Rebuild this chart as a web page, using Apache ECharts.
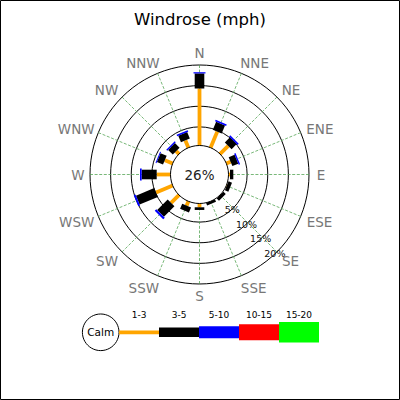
<!DOCTYPE html>
<html>
<head>
<meta charset="utf-8">
<script src="https://cdn.jsdelivr.net/npm/echarts@6.0.0/dist/echarts.min.js"></script>
<style>
html,body{margin:0;padding:0;background:#fff;}
#chart{width:400px;height:400px;}
</style>
</head>
<body>
<div id="chart"></div>
<script>
// ---- data ----
const directions = ['N','NNE','NE','ENE','E','ESE','SE','SSE','S','SSW','SW','WSW','W','WNW','NW','NNW'];
const speedBins = ['1-3','3-5','5-10','10-15','15-20'];
const calmPct = 26;
const radialTicks = [5, 10, 15, 20];
// percent of time per direction for each speed bin (mph)
const pct1to3   = [14.3, 4.7, 3.3, 1.6, 0.85, 0.6, 0.5, 0.4, 1.4, 1.6, 3.2, 4.85, 3.83, 2.55, 1.45, 2.4];
const pct3to5   = [3.65, 2.1, 1.75, 1.55, 0.8, 0.9, 0.8, 0.7, 0.65, 1.35, 3.6, 4.8, 3.64, 1.6, 1.6, 1.7];
const pct5to10  = [0.3, 0.4, 0.4, 0.35, 0, 0, 0, 0, 0, 0, 0.55, 0.45, 0.41, 0.25, 0.35, 0.36];
const pct10to15 = [0, 0, 0, 0, 0, 0, 0, 0, 0, 0, 0, 0, 0, 0, 0, 0];
const pct15to20 = [0, 0, 0, 0, 0, 0, 0, 0, 0, 0, 0, 0, 0, 0, 0, 0];

// ---- styles ----
const binValues = [pct1to3, pct3to5, pct5to10, pct10to15, pct15to20];
const binColors = ['#FFA500', '#000000', '#0000FF', '#FF0000', '#00FF00'];
const binThickness = [3.8, 9.6, 12, 16, 20.5];
const CX = 199.5, CY = 174.5, R0 = 27, R1 = 109.5;
const FONT = 'DejaVu Sans';
const DIR_FONT = '13.5px "' + FONT + '"';

const measureCtx = document.createElement('canvas').getContext('2d');
function textWidth(t, font) { measureCtx.font = font; return measureCtx.measureText(t).width; }

const chart = echarts.init(document.getElementById('chart'), null, {renderer: 'svg', width: 400, height: 400});

const barSeries = binValues.map((vals, b) => ({
  type: 'custom',
  name: speedBins[b],
  coordinateSystem: 'polar',
  polarIndex: 0,
  silent: true,
  clip: false,
  z: 3 + b,
  encode: {radius: 0, angle: 1},
  data: directions.map((d, i) => {
    let base = 0;
    for (let k = 0; k < b; k++) base += binValues[k][i];
    return [base + vals[i], i, base];
  }),
  renderItem: function (params, api) {
    const end = api.value(0), ang = api.value(1), start = api.value(2);
    if (!(end > start)) return null;
    const p0 = api.coord([start, ang]);
    const p1 = api.coord([end, ang]);
    const dx = p1[0] - p0[0], dy = p1[1] - p0[1];
    const len = Math.sqrt(dx * dx + dy * dy) || 1;
    const hw = binThickness[b] / 2;
    const nx = -dy / len * hw, ny = dx / len * hw;
    return {
      type: 'polygon',
      shape: {points: [[p0[0] + nx, p0[1] + ny], [p1[0] + nx, p1[1] + ny], [p1[0] - nx, p1[1] - ny], [p0[0] - nx, p0[1] - ny]]},
      style: {fill: binColors[b]}
    };
  }
}));

const dirLabelSeries = {
  type: 'custom',
  coordinateSystem: 'polar',
  polarIndex: 0,
  silent: true,
  clip: false,
  encode: {radius: 0, angle: 1},
  data: directions.map((d, i) => [0, i]),
  renderItem: function (params, api) {
    const i = api.value(1);
    const cs = params.coordSys;
    const p = api.coord([0, i]);
    const ux = (p[0] - cs.cx) / cs.r0, uy = (p[1] - cs.cy) / cs.r0;
    const R = cs.r + 12;
    const diag = Math.abs(ux) > 0.1 && Math.abs(uy) > 0.1;
    const shift = diag ? Math.sign(ux) * textWidth(directions[i], DIR_FONT) / 2 * 0.6 : 0;
    return {
      type: 'text',
      x: cs.cx + ux * R + shift,
      y: cs.cy + uy * R + (diag ? 1 : 0),
      style: {text: directions[i], fill: '#777777', font: DIR_FONT, align: 'center', verticalAlign: 'middle'}
    };
  }
};

// legend graphics
const legendEls = [];
const LX = 119, LY = 332.3, SEG = 40;
legendEls.push({type: 'circle', shape: {cx: 100.7, cy: LY, r: 18.3}, style: {fill: '#fff', stroke: '#000', lineWidth: 1}});
legendEls.push({type: 'text', x: 100.7, y: LY, style: {text: 'Calm', fill: '#000', font: '10.5px "' + FONT + '"', align: 'center', verticalAlign: 'middle'}});
speedBins.forEach((lab, b) => {
  legendEls.push({type: 'rect', shape: {x: LX + b * SEG, y: LY - binThickness[b] / 2, width: SEG, height: binThickness[b]}, style: {fill: binColors[b]}});
  legendEls.push({type: 'text', x: LX + b * SEG + SEG / 2, y: 315, style: {text: lab, fill: '#000', font: '9px "' + FONT + '"', align: 'center', verticalAlign: 'middle'}});
});

const option = {
  backgroundColor: '#fff',
  animation: false,
  title: {
    text: 'Windrose (mph)', left: 'center', top: 6,
    textStyle: {fontFamily: FONT, fontSize: 16.5, fontWeight: 'normal', color: '#000'}
  },
  polar: [
    {center: [CX, CY], radius: [R0, R1]},
    {center: [CX, CY], radius: [R0, R1]}
  ],
  angleAxis: [
    {
      polarIndex: 0, type: 'category', data: directions, boundaryGap: false,
      startAngle: 90, clockwise: true,
      axisLine: {show: false}, axisTick: {show: false}, axisLabel: {show: false},
      splitLine: {show: true, lineStyle: {color: '#3f9a3f', width: 0.7, type: [3, 1.6]}}
    },
    {
      polarIndex: 1, type: 'value', min: 0, max: 360, startAngle: -46.5, clockwise: true,
      axisLine: {show: false}, axisTick: {show: false}, axisLabel: {show: false}, splitLine: {show: false}
    }
  ],
  radiusAxis: [
    {
      polarIndex: 0, type: 'value', min: 0, max: 20, interval: 5,
      axisLine: {show: false}, axisTick: {show: false}, axisLabel: {show: false},
      splitLine: {show: false}
    },
    {
      polarIndex: 1, type: 'value', min: 0, max: 20, interval: 5,
      axisLine: {show: false}, axisTick: {show: false},
      splitLine: {show: true, lineStyle: {color: '#000', width: 1}},
      axisLabel: {
        show: true, margin: 0, align: 'center', verticalAlign: 'middle',
        fontFamily: FONT, fontSize: 9.5, color: '#111',
        formatter: function (v) { return radialTicks.indexOf(v) >= 0 ? v + '%' : ''; }
      }
    }
  ],
  series: barSeries.concat([dirLabelSeries]),
  graphic: [
    {type: 'circle', z: 100, shape: {cx: CX, cy: CY, r: 29}, style: {fill: '#fff', stroke: '#000', lineWidth: 1}},
    {type: 'text', z: 101, x: CX, y: CY + 0.5, style: {text: calmPct + '%', fill: '#222', font: '13.5px "' + FONT + '"', align: 'center', verticalAlign: 'middle'}},
    {type: 'group', z: 100, children: legendEls},
    {type: 'rect', z: 100, shape: {x: 0.5, y: 0.5, width: 399, height: 399}, style: {fill: 'none', stroke: '#000', lineWidth: 1}}
  ]
};
chart.setOption(option);
</script>
</body>
</html>
